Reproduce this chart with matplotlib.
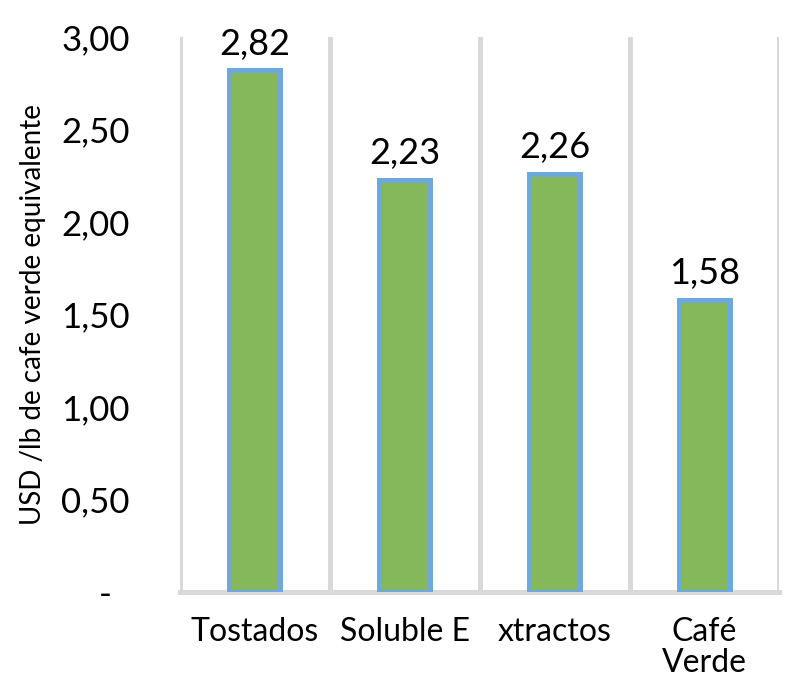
import matplotlib.pyplot as plt
import numpy as np
from matplotlib.ticker import FuncFormatter, FixedLocator

categories = ["Tostados", "Soluble E", "xtractos", "Café\nVerde"]
values = [2.82, 2.23, 2.26, 1.58]
y_ticks = [0.0, 0.5, 1.0, 1.5, 2.0, 2.5, 3.0]

plt.rcParams["font.family"] = ["Lato", "DejaVu Sans"]

GREEN = "#84b85a"
BLUE = "#6fa8dc"
GRID = "#d9d9d9"


def comma_fmt(value, _pos):
    if abs(value) < 1e-9:
        return "-  "
    return f"{value:.2f}".replace(".", ",")


figure = plt.figure(figsize=(7.94, 6.89), dpi=100)
axis = figure.add_axes([0.2267, 0.141, 0.755, 0.805])

x = np.arange(len(categories))
bars = axis.bar(
    x,
    values,
    width=0.34,
    color=GREEN,
    edgecolor=BLUE,
    linewidth=3.6,
    zorder=3,
)

for bar, value in zip(bars, values):
    axis.annotate(
        f"{value:.2f}".replace(".", ","),
        (bar.get_x() + bar.get_width() / 2, value),
        xytext=(0, 7),
        textcoords="offset points",
        ha="center",
        va="bottom",
        fontsize=26,
    )

axis.set_xlim(-0.5, len(categories) - 0.5)
axis.set_ylim(0, 3.0)
axis.yaxis.set_major_locator(FixedLocator(y_ticks))
axis.yaxis.set_major_formatter(FuncFormatter(comma_fmt))

# vertical separators between categories
axis.xaxis.set_minor_locator(FixedLocator(np.arange(-0.5, len(categories), 1.0)))
axis.grid(which="minor", axis="x", color=GRID, linewidth=3.6, zorder=0)
axis.grid(which="major", visible=False)

axis.set_xticks(x)
axis.set_xticklabels(categories, fontsize=23, linespacing=1.05)
axis.tick_params(axis="x", which="both", length=0, pad=18)
axis.tick_params(axis="y", length=0, labelsize=25, pad=36)
for label in axis.get_yticklabels():
    label.set_horizontalalignment("right")

for side in ["top", "right", "left"]:
    axis.spines[side].set_visible(False)
axis.spines["bottom"].set_color(GRID)
axis.spines["bottom"].set_linewidth(3.6)

axis.set_ylabel("USD /lb de cafe verde equivalente", fontsize=20, labelpad=11)

figure.savefig("out.png", dpi=100)
plt.close(figure)
